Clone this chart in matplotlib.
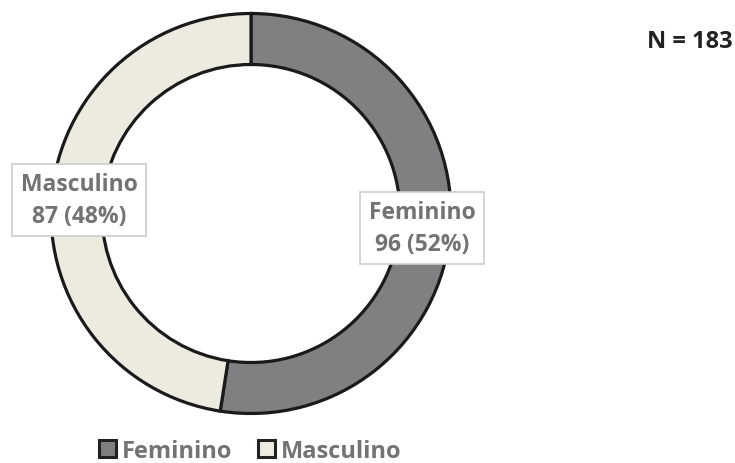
import matplotlib
matplotlib.use("Agg")
import matplotlib.pyplot as plt
from matplotlib.patches import Patch

categories = ["Feminino", "Masculino"]
counts = [96, 87]
colors = ["#808083", "#EDEBE0"]
total_label = "N = 183"

FONT = "Open Sans"
W, H = 735, 464
fig = plt.figure(figsize=(W / 100, H / 100), dpi=100)
ax = fig.add_axes([0, 0, 1, 1])

cx, cy, R = 251, H - 214.5, 200
wedges, _ = ax.pie(counts, colors=colors, startangle=90, counterclock=False,
                   center=(cx, cy), radius=R, frame=True,
                   wedgeprops=dict(width=R * 0.255, edgecolor="#1a1a1a", linewidth=2.3))
ax.set_xlim(0, W)
ax.set_ylim(0, H)
ax.set_aspect("equal")
ax.axis("off")

tot = sum(counts)
label_pos = [(422, H - 229), (79, H - 201)]
for cat, n, (x, y) in zip(categories, counts, label_pos):
    ax.text(x, y, f"{cat}\n{n} ({round(100 * n / tot)}%)", ha="center", va="center",
            fontsize=16.5, fontweight="bold", family=FONT, color="#737373",
            linespacing=1.4,
            bbox=dict(boxstyle="square,pad=0.38", facecolor="white", edgecolor="#cccccc", linewidth=1.2))

ax.text(733, H - 42, total_label, ha="right", va="center", fontsize=17,
        fontweight="bold", family=FONT, color="#222222")

handles = [Patch(facecolor=c, edgecolor="#222222", linewidth=2.2, label=l) for c, l in zip(colors, categories)]
leg = fig.legend(handles=handles, loc="center", bbox_to_anchor=(250 / W, 1 - 452 / H), ncol=2,
                 frameon=False, prop=dict(family=FONT, weight="bold", size=17),
                 handlelength=0.72, handleheight=0.72, handletextpad=0.25, columnspacing=1.1,
                 borderpad=0.1)
for t in leg.get_texts():
    t.set_color("#737373")

fig.savefig("out.png", dpi=100)
